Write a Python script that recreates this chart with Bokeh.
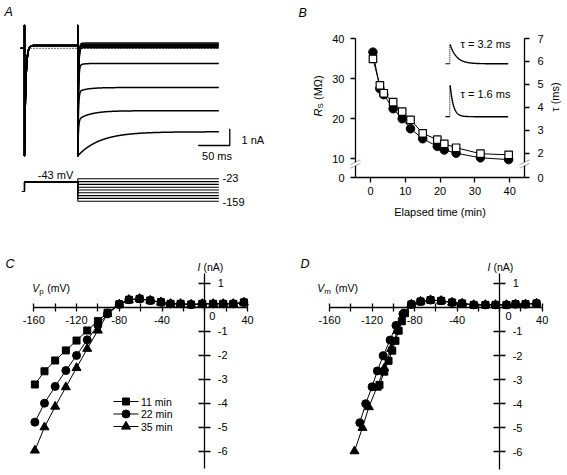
import numpy as np
from bokeh.plotting import figure
from bokeh.models import Range1d, LinearAxis, FixedTicker, Label, PolyAnnotation
from bokeh.layouts import column, row
from bokeh.embed import file_html
from bokeh.resources import INLINE

FONT = "Liberation Sans"

# ======================= DATA =======================
# --- A: voltage protocol and membrane currents ---
a_holding_mv = -100
a_prepulse_mv = -43
a_test_mv = [-23, -40, -57, -74, -91, -108, -125, -142, -159]
a_prepulse_na = 0.17
a_peak_na = [0.31, 0.25, 0.19, 0.13, 0.03, -1.05, -2.6, -4.28, -6.44]
a_steady_na = [0.31, 0.25, 0.19, 0.13, 0.03, -0.91, -2.35, -3.74, -5.0]
a_tau_ms = [10, 10, 10, 10, 10, 6, 15, 20, 35]
a_times_ms = [-6, 0, 84.2, 307]          # trace start, prepulse onset, test onset, end
a_protocol_start_ms = -4
a_cap_na = [1.36, -6.44]                 # clipped capacitive transient extremes
a_zero_line_ms = [9.5, 307]
a_scalebar = [50, 1]                     # ms, nA
a_scalebar_corner = [324.3, -5.82]       # ms, nA

# --- B: series resistance and clamp time constant vs elapsed time ---
b_time_min = [0.7, 2.7, 3.8, 6.5, 9.1, 11.5, 15.0, 19.2, 21.2, 24.6, 31.6, 39.7]
b_rs_mohm = [36.6, 27.5, 26.0, 22.5, 20.0, 17.5, 15.0, 13.1, 12.2, 11.4, 10.25, 9.8]
b_tau_ms = [6.11, 4.95, 4.61, 4.22, 3.81, 3.45, 2.86, 2.58, 2.40, 2.23, 1.97, 1.92]
b_xticks = [0, 10, 20, 30, 40]
b_rs_ticks = [10, 20, 30, 40]
b_tau_ticks = [2, 3, 4, 5, 6, 7]
b_inset_tau_ms = [3.2, 1.6]
b_inset_base = [33.7, 20.5]
b_inset_peak = [38.5, 28.3]

# --- C: I-V vs pipette potential ---
c_neg_vp = [-159, -150, -140, -130, -120, -110, -100, -91]
c_i_11 = [-3.22, -2.67, -2.22, -1.80, -1.39, -0.97, -0.58, -0.23]
c_i_22 = [-4.79, -4.00, -3.30, -2.64, -2.01, -1.36, -0.75, -0.28]
c_i_35 = [-5.97, -5.00, -4.14, -3.33, -2.53, -1.73, -0.97, -0.28]
c_pos_vp = [-80, -71, -61, -51, -41, -32, -22.6, -12.8, -2.4, 7.9, 17.3, 26.7, 36.6]
c_pos_i = [0.12, 0.31, 0.35, 0.28, 0.21, 0.14, 0.14, 0.11, 0.14, 0.14, 0.14, 0.14, 0.2]

# --- D: I-V vs corrected membrane potential ---
d_vm_11 = [-113, -108.5, -104.5, -101, -98, -95, -92, -89]
d_vm_22 = [-131.5, -126, -120, -115, -109.5, -103, -97.5, -91]
d_vm_35 = [-136.5, -129, -123, -115.5, -108.5, -102, -96, -90]
d_pos_vm = [-83, -74.4, -65, -55, -44.7, -35.3, -24.4, -13.4, -3.9, 6.4, 14.9, 24.3, 34.6]
d_pos_i = [0.12, 0.24, 0.3, 0.27, 0.2, 0.16, 0.1, 0.1, 0.1, 0.1, 0.13, 0.13, 0.16]

iv_xticks = [-160, -120, -80, -40, 0, 40]
iv_xminor = [-140, -100, -60, -20, 20]
iv_yticks = [-6, -5, -4, -3, -2, -1, 1]
legend_labels = ["11 min", "22 min", "35 min"]
markers = ["square", "circle", "triangle"]
marker_sizes = [7, 8, 9]


# ======================= HELPERS =======================
def mapper(left, top, w, h, xr, yr):
    def fx(px):
        return xr[0] + (px - left) / w * (xr[1] - xr[0])

    def fy(py):
        return yr[1] - (py - top) / h * (yr[1] - yr[0])
    return fx, fy


def lab(p, fx, fy, px, py, text, size="11px", style="normal", align="left",
        baseline="middle", angle=0.0):
    p.add_layout(Label(x=fx(px), y=fy(py), text=text, text_font=FONT,
                       text_font_size=size, text_font_style=style,
                       text_align=align, text_baseline=baseline, angle=angle,
                       text_color="black"))


def base_fig(w, h, xr, yr, **kw):
    p = figure(width=w, height=h, x_range=Range1d(*xr), y_range=Range1d(*yr),
               output_backend="svg", toolbar_location=None, title=None,
               min_border=0, **kw)
    p.outline_line_color = None
    p.grid.visible = False
    p.background_fill_color = "white"
    p.border_fill_color = "white"
    return p


def style_axis(ax, size="11px"):
    ax.axis_line_color = "black"
    ax.axis_line_width = 1.3
    ax.major_tick_line_color = "black"
    ax.major_tick_line_width = 1.3
    ax.minor_tick_line_color = "black"
    ax.minor_tick_line_width = 1.3
    ax.major_label_text_font = FONT
    ax.major_label_text_font_size = size
    ax.major_label_text_color = "black"


TOP_H, BOT_H, LEFT_W, RIGHT_W = 223, 252, 288, 279

# ======================= PANEL A =======================
A_L, A_T, A_W, A_H = 0, 0, LEFT_W, TOP_H
A_PXMS, A_PXNA, A_PXMV = 0.633, 16.7, 0.1647
A_X0 = -(24 - A_L) / A_PXMS
A_XR = (A_X0, A_X0 + A_W / A_PXMS)
A_Y1 = (47.8 - A_T) / A_PXNA
A_YR = (A_Y1 - A_H / A_PXNA, A_Y1)
MV1 = -23 + (178.3 - A_T) / A_PXMV
A_MVR = (MV1 - A_H / A_PXMV, MV1)

pA = base_fig(A_W, A_H, A_XR, A_YR, x_axis_location=None, y_axis_location=None)
pA.extra_y_ranges = {"mv": Range1d(*A_MVR)}
fxA, fyA = mapper(A_L, A_T, A_W, A_H, A_XR, A_YR)

t0, t_on, t_step, t_end = a_times_ms
for pk, ss, tau in zip(a_peak_na, a_steady_na, a_tau_ms):
    tp = np.linspace(t_on, t_step, 300)
    ip = a_prepulse_na + (a_cap_na[1] - a_prepulse_na) * np.exp(-(tp - t_on) / 2.0)
    tt = np.linspace(t_step, t_end, 600)
    it = (ss + (pk - ss) * np.exp(-(tt - t_step) / tau)
          + (a_cap_na[1] - pk) * np.exp(-(tt - t_step) / 1.0))
    xs = np.concatenate([[t0, t_on, t_on], tp, [t_step], tt])
    ys = np.concatenate([[0, 0, a_cap_na[0]], ip, [a_cap_na[0]], it])
    pA.line(xs, ys, line_color="black", line_width=1.5, line_join="round")

pA.line(a_zero_line_ms, [0, 0], line_color="black", line_width=1.3, line_dash="1 2")

for v in a_test_mv:
    pA.line([a_protocol_start_ms, t_on, t_on, t_step, t_step, t_end],
            [a_holding_mv, a_holding_mv, a_prepulse_mv, a_prepulse_mv, v, v],
            y_range_name="mv", line_color="black", line_width=1.1)

sbx, sby = a_scalebar_corner
pA.line([sbx - a_scalebar[0], sbx, sbx], [sby, sby, sby + a_scalebar[1]],
        line_color="black", line_width=1.3)

lab(pA, fxA, fyA, 4, 4, "A", size="12.5px", style="italic", baseline="top")
lab(pA, fxA, fyA, 55, 174.5, "-43 mV", align="center")
lab(pA, fxA, fyA, 222, 177.5, "-23")
lab(pA, fxA, fyA, 222, 201, "-159")
lab(pA, fxA, fyA, 241, 139, "1 nA")
lab(pA, fxA, fyA, 216.5, 155.5, "50 ms", align="center")

# ======================= PANEL B =======================
B_L, B_T, B_W, B_H = LEFT_W, 0, RIGHT_W, TOP_H
B_PXMIN, B_PXRS, B_PXTAU = 3.48, 4.01, 22.9
B_X0PX, B_TOPPX, B_BOTPX, B_LAXPX, B_RAXPX = 370, 38, 177, 355, 524
B_XR = ((B_L - B_X0PX) / B_PXMIN, (B_L + B_W - B_X0PX) / B_PXMIN)
B_Y1 = 40 + (B_TOPPX - B_T) / B_PXRS
B_YR = (B_Y1 - B_H / B_PXRS, B_Y1)
B_T1 = 7 + (B_TOPPX - B_T) / B_PXTAU
B_TR = (B_T1 - B_H / B_PXTAU, B_T1)
B_RS0 = 40 - (B_BOTPX - B_TOPPX) / B_PXRS
B_TAU0 = 7 - (B_BOTPX - B_TOPPX) / B_PXTAU
B_XLEFT = (B_LAXPX - B_X0PX) / B_PXMIN
B_XRIGHT = (B_RAXPX - B_X0PX) / B_PXMIN

pB = base_fig(B_W, B_H, B_XR, B_YR)
pB.extra_y_ranges = {"tau": Range1d(*B_TR)}
fxB, fyB = mapper(B_L, B_T, B_W, B_H, B_XR, B_YR)

xa = pB.xaxis[0]
xa.fixed_location = B_RS0
xa.bounds = (B_XLEFT, B_XRIGHT)
xa.ticker = FixedTicker(ticks=b_xticks, minor_ticks=[])
style_axis(xa)
xa.major_tick_out = 5
xa.major_tick_in = 0
xa.major_label_standoff = 4
xa.axis_label = "Elapsed time (min)"
xa.axis_label_text_font = FONT
xa.axis_label_text_font_size = "11px"
xa.axis_label_text_font_style = "normal"
xa.axis_label_text_color = "black"
xa.axis_label_standoff = 8

ya = pB.yaxis[0]
ya.fixed_location = B_XLEFT
ya.bounds = (B_RS0, 40)
ya.ticker = FixedTicker(ticks=[B_RS0] + b_rs_ticks, minor_ticks=[])
ya.major_label_overrides = {B_RS0: "0"}
style_axis(ya)
ya.major_tick_out = 5
ya.major_tick_in = 0
ya.major_label_standoff = 6

ra = LinearAxis(y_range_name="tau", fixed_location=B_XRIGHT, bounds=(B_TAU0, 7),
                ticker=FixedTicker(ticks=[B_TAU0] + b_tau_ticks, minor_ticks=[]))
ra.major_label_overrides = {B_TAU0: "0"}
style_axis(ra)
ra.major_tick_out = 5
ra.major_tick_in = 0
ra.major_label_standoff = 8
pB.add_layout(ra, "right")

pB.line(b_time_min, b_rs_mohm, line_color="black", line_width=1)
pB.scatter(b_time_min, b_rs_mohm, marker="circle", size=8.5, fill_color="black",
           line_color="black")
pB.line(b_time_min, b_tau_ms, y_range_name="tau", line_color="black", line_width=1)
pB.scatter(b_time_min, b_tau_ms, y_range_name="tau", marker="square", size=7.5,
           fill_color="white", line_color="black", line_width=1.2)

# inset capacitive transients
ins_x0 = fxB(449.3)
ins_stub = fxB(445)
ms_to_min = 2.0 / B_PXMIN
for tau_i, base, peak in zip(b_inset_tau_ms, b_inset_base, b_inset_peak):
    pB.line([ins_stub, ins_x0], [base, base], line_color="black", line_width=1.2)
    pB.line([ins_x0, ins_x0], [base, peak], line_color="black", line_width=1,
            line_dash="1 1")
    t = np.linspace(0, 29, 200)
    pB.line(ins_x0 + 0.4 / B_PXMIN + t * ms_to_min,
            base + (peak - base) * np.exp(-t / tau_i),
            line_color="black", line_width=1.4)

lab(pB, fxB, fyB, 460, 43.5, "\u03c4 = 3.2 ms")
lab(pB, fxB, fyB, 460, 93.5, "\u03c4 = 1.6 ms")

# axis breaks
for axx in (B_LAXPX, B_RAXPX):
    cy = 163.5
    xs_ = [fxB(axx - 5), fxB(axx + 5), fxB(axx + 5), fxB(axx - 5)]
    ys_ = [fyB(cy + 2.5 - 1.8), fyB(cy - 2.5 - 1.8), fyB(cy - 2.5 + 1.8), fyB(cy + 2.5 + 1.8)]
    pB.add_layout(PolyAnnotation(xs=xs_, ys=ys_, fill_color="white", fill_alpha=1,
                                 line_color=None))
    for d in (-1.8, 1.8):
        pB.add_layout(PolyAnnotation(xs=[fxB(axx - 5), fxB(axx + 5)],
                                     ys=[fyB(cy + 2.5 + d), fyB(cy - 2.5 + d)],
                                     fill_alpha=0, line_color="black", line_width=1.1))

lab(pB, fxB, fyB, 298, 5, "B", size="12.5px", style="italic", baseline="top")
lab(pB, fxB, fyB, 317, 116, "R", style="italic", angle=np.pi / 2)
lab(pB, fxB, fyB, 320, 108, "S", size="8px", angle=np.pi / 2)
lab(pB, fxB, fyB, 317, 99.5, "(M\u03a9)", angle=np.pi / 2)
lab(pB, fxB, fyB, 554, 96.5, "\u03c4 (ms)", align="center", angle=np.pi / 2)


# ======================= PANELS C & D =======================
def iv_panel(left, w, px_mv, x_m160, y0px, px_na, vlist, ilist, pos_v, pos_i,
             sub, letter, letter_x, zero_lab_x, ilab_x, vlab_x, legend=False):
    top, h = TOP_H, BOT_H
    x0 = -160 - (x_m160 - left) / px_mv
    xr = (x0, x0 + w / px_mv)
    y1 = (y0px - top) / px_na
    yr = (y1 - h / px_na, y1)
    p = base_fig(w, h, xr, yr, x_axis_location="below", y_axis_location="right")
    fx, fy = mapper(left, top, w, h, xr, yr)

    xa = p.xaxis[0]
    xa.fixed_location = 0
    xa.bounds = (-160, 40)
    xa.ticker = FixedTicker(ticks=iv_xticks, minor_ticks=iv_xminor)
    xa.major_label_overrides = {t: ("" if t == 0 else str(t)) for t in iv_xticks}
    style_axis(xa)
    xa.major_tick_in = 4
    xa.major_tick_out = 4
    xa.minor_tick_in = 4
    xa.minor_tick_out = 4
    xa.major_label_standoff = 5

    ya = p.yaxis[0]
    ya.fixed_location = 0
    ya.bounds = (-6.72, 1.39)
    ya.ticker = FixedTicker(ticks=iv_yticks, minor_ticks=[])
    ya.major_label_overrides = {t: str(t) for t in iv_yticks}
    style_axis(ya)
    ya.major_tick_in = 6
    ya.major_tick_out = 6
    ya.minor_tick_in = 0
    ya.minor_tick_out = 0
    ya.major_label_standoff = 7

    for vv, ii, mk, ms in zip(vlist, ilist, markers, marker_sizes):
        xs = list(vv) + pos_v
        ys = list(ii) + pos_i
        p.line(xs, ys, line_color="black", line_width=1)
        p.scatter(xs, ys, marker=mk, size=ms, fill_color="black", line_color="black")

    if legend:
        for k, (txt, mk, ms) in enumerate(zip(legend_labels, markers, marker_sizes)):
            ry = 401 + 12.5 * k
            p.line([fx(113), fx(138)], [fy(ry), fy(ry)], line_color="black", line_width=1)
            p.scatter([fx(125.5)], [fy(ry)], marker=mk, size=ms, fill_color="black",
                      line_color="black")
            lab(p, fx, fy, 140.5, ry, txt, size="10.5px")

    lab(p, fx, fy, letter_x, 256, letter, size="12.5px", style="italic", baseline="top")
    lab(p, fx, fy, zero_lab_x, 315, "0", align="center")
    lab(p, fx, fy, ilab_x, 266, "I", size="10.5px", style="italic")
    lab(p, fx, fy, ilab_x + 6, 266, "(nA)", size="10.5px")
    lab(p, fx, fy, vlab_x, 287, "V", size="10.5px", style="italic")
    lab(p, fx, fy, vlab_x + 7, 290.5, sub, size="8px")
    lab(p, fx, fy, vlab_x + (15 if sub == "p" else 18), 287, "(mV)", size="10.5px")
    return p


pC = iv_panel(0, LEFT_W, 1.0685, 33.3, 306.7, 24.0,
              [c_neg_vp, c_neg_vp, c_neg_vp], [c_i_11, c_i_22, c_i_35],
              c_pos_vp, c_pos_i, "p", "C", 5, 211.7, 197, 31.7, legend=True)
pD = iv_panel(LEFT_W, RIGHT_W, 1.0635, 329.0, 306.8, 24.1,
              [d_vm_11, d_vm_22, d_vm_35], [c_i_11, c_i_22, c_i_35],
              d_pos_vm, d_pos_i, "m", "D", 300, 508, 487, 316.7)

layout = column(row(pA, pB), row(pC, pD))
open("out.html", "w").write(file_html(layout, INLINE))
